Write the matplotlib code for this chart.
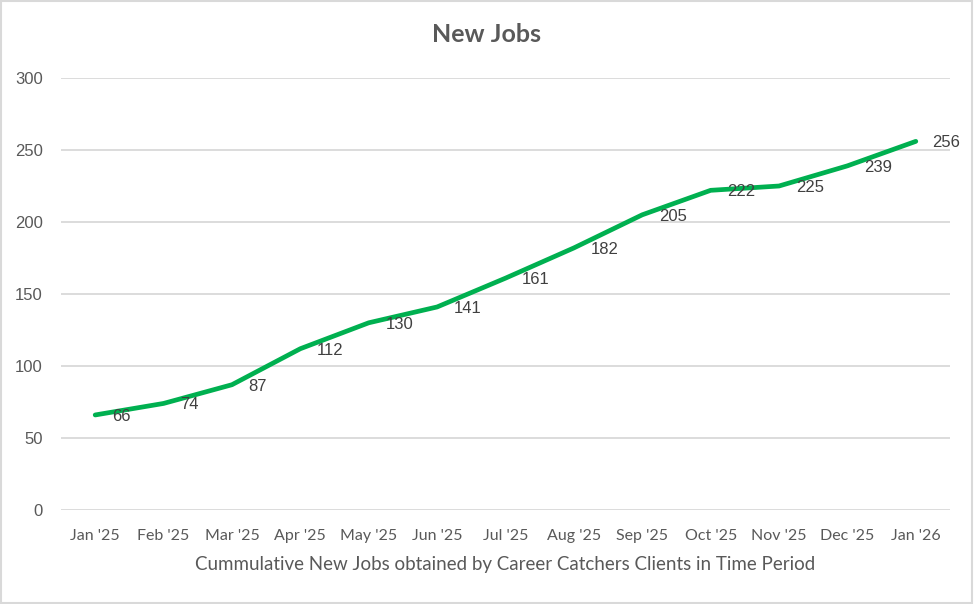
import matplotlib.pyplot as plt
from matplotlib.patches import Rectangle

months = ["Jan '25", "Feb '25", "Mar '25", "Apr '25", "May '25", "Jun '25", "Jul '25",
          "Aug '25", "Sep '25", "Oct '25", "Nov '25", "Dec '25", "Jan '26"]
new_jobs = [66, 74, 87, 112, 130, 141, 161, 182, 205, 222, 225, 239, 256]
y_ticks = [0, 50, 100, 150, 200, 250, 300]

grey = '#595959'
green = '#00B050'

fig = plt.figure(figsize=(9.74, 6.04), dpi=100)
ax = fig.add_axes([61/974, 1 - 510/604, (950 - 61)/974, (510 - 78)/604])

x = list(range(len(months)))
ax.plot(x, new_jobs, color=green, lw=3.4, solid_capstyle='round', solid_joinstyle='round', zorder=3)

# data labels to the right of each point
for xi, v in zip(x, new_jobs):
    ax.annotate(str(v), (xi, v), xytext=(12, -1), textcoords='offset points',
                ha='left', va='center', fontsize=12, color='#404040',
                family='Liberation Sans', zorder=4)

ax.set_xlim(-0.5, len(months) - 0.5)
ax.set_ylim(0, 300)
ax.set_yticks(y_ticks)
ax.set_xticks(x)
ax.set_xticklabels(months, family='Lato', fontsize=11.5, color=grey)
for lbl in ax.get_yticklabels():
    lbl.set_family('Liberation Sans')
    lbl.set_fontsize(12)
    lbl.set_color(grey)
ax.tick_params(axis='both', length=0)
ax.tick_params(axis='y', pad=13)
ax.tick_params(axis='x', pad=14)
ax.grid(axis='y', color='#d9d9d9', lw=1.3)
ax.set_axisbelow(True)
for s in ax.spines.values():
    s.set_visible(False)

ax.set_xlabel('Cummulative New Jobs obtained by Career Catchers Clients in Time Period',
              family='Lato', fontsize=13.5, color=grey, labelpad=9)
fig.text(0.5, 1 - 34/604, 'New Jobs', ha='center', va='center', family='Lato',
         fontsize=18, fontweight='bold', color=grey)

fig.patches.append(Rectangle((0.001, 0.001), 0.997, 0.997, transform=fig.transFigure,
                             fill=False, edgecolor='#d9d9d9', lw=1.5))

fig.savefig('out.png', dpi=100)
